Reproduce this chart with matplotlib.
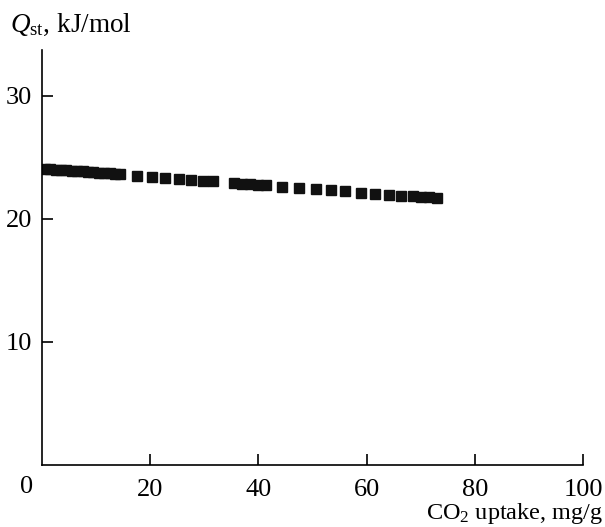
import matplotlib
matplotlib.use("Agg")
import matplotlib.pyplot as plt

# data (CO2 uptake mg/g, Qst kJ/mol)
uptake = [0.5, 1.5, 2.5, 3.5, 4.5, 5.5, 6.5, 7.5, 8.5, 9.5, 10.5, 11.5, 12.5, 13.5, 14.5,
          17.6, 20.4, 22.8, 25.4, 27.6, 29.8, 31.7,
          35.5, 37.0, 38.5, 40.0, 41.5,
          44.4, 47.6, 50.6, 53.5, 56.1, 58.9, 61.5, 64.1, 66.3,
          68.5, 70.0, 71.5, 73.0]
qst = [24.05, 24.02, 23.99, 23.96, 23.93, 23.90, 23.87, 23.84, 23.81, 23.78, 23.75, 23.72, 23.69, 23.66, 23.63,
       23.50, 23.42, 23.33, 23.24, 23.17, 23.10, 23.03,
       22.90, 22.85, 22.80, 22.75, 22.71,
       22.58, 22.48, 22.39, 22.30, 22.22, 22.12, 22.04, 21.96, 21.88,
       21.82, 21.77, 21.73, 21.69]

x_ticks = [20, 40, 60, 80, 100]
y_ticks = [10, 20, 30]

plt.rcParams['font.family'] = ['Liberation Serif', 'DejaVu Serif']
plt.rcParams['mathtext.fontset'] = 'custom'
plt.rcParams['mathtext.rm'] = 'Liberation Serif'
plt.rcParams['mathtext.it'] = 'Liberation Serif:italic'

fig = plt.figure(figsize=(6.05, 5.27), dpi=100)
ax = fig.add_axes([0.0694, 0.1176, 0.8942, 0.7874])
ax.plot(uptake, qst, linestyle='none', marker='s', markersize=6.8, color='#111111')
ax.set_xlim(0, 100)
ax.set_ylim(0, 33.7)
ax.spines['top'].set_visible(False)
ax.spines['right'].set_visible(False)
for s in ['left', 'bottom']:
    ax.spines[s].set_linewidth(1.2)
ax.set_xticks(x_ticks)
ax.set_yticks(y_ticks)
ax.tick_params(axis='both', direction='in', length=8, width=1.2, labelsize=19)
ax.tick_params(axis='x', pad=10)
ax.tick_params(axis='y', pad=7)

fig.text(27 / 605, 1 - 487 / 527, '0', fontsize=19, ha='center', va='center')
fig.text(10 / 605, 1 - 25 / 527, r'$\mathit{Q}_{\rm st}$, kJ/mol', fontsize=19.5, ha='left', va='center')
fig.text(603 / 605, 1 - 513 / 527, r'CO$_2$ uptake, mg/g', fontsize=17.5, ha='right', va='center')

fig.savefig('out.png', dpi=100)
